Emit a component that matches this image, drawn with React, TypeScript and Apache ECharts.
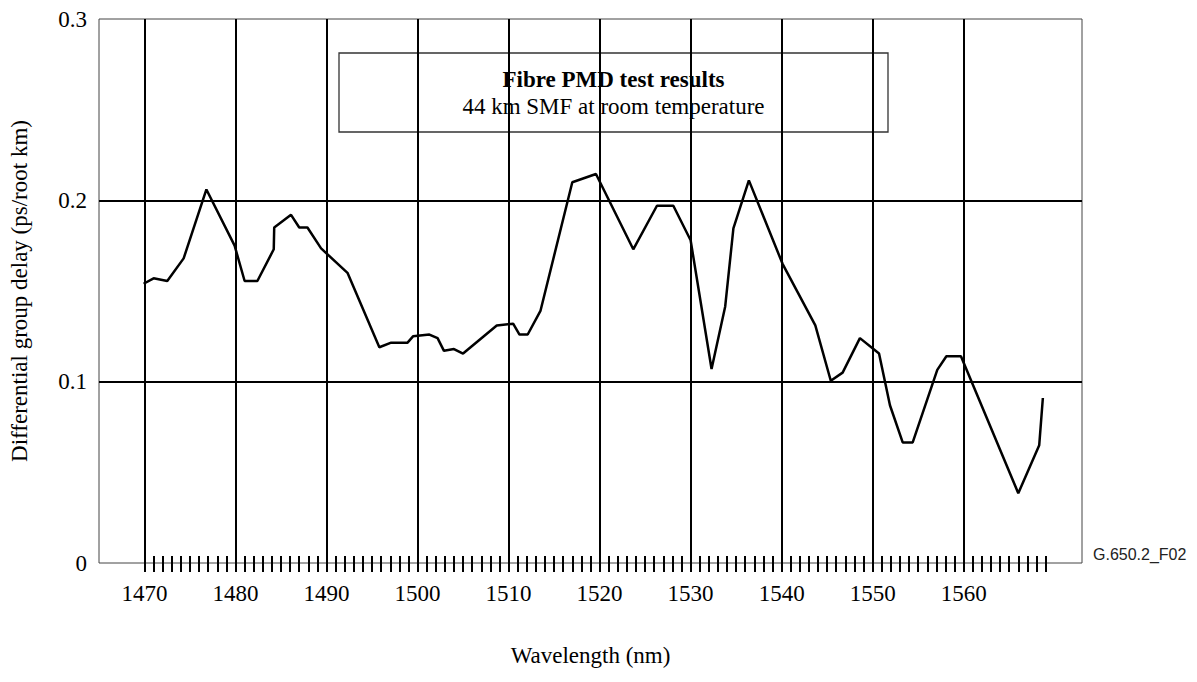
import React, { useEffect, useRef } from "react";
import * as echarts from "echarts";

// Data
const wavelengths: number[] = [
  1469.9, 1471.0, 1472.5, 1474.3, 1476.8, 1479.9, 1481.0, 1482.4, 1484.2, 1484.25,
  1486.1, 1487.0, 1487.9, 1489.4, 1492.3, 1495.8, 1497.1, 1498.9, 1499.5, 1501.3,
  1502.2, 1502.9, 1504.0, 1505.0, 1508.7, 1510.5, 1511.2, 1512.1, 1513.5, 1517.0,
  1519.6, 1523.7, 1526.3, 1528.1, 1530.0, 1532.3, 1533.8, 1534.7, 1536.4, 1540.1,
  1543.7, 1545.4, 1546.7, 1548.6, 1550.7, 1551.9, 1553.3, 1554.4, 1557.1, 1558.1,
  1559.7, 1566.0, 1568.3, 1568.7,
];
const dgdValues: number[] = [
  0.154, 0.157, 0.1555, 0.168, 0.206, 0.175, 0.1555, 0.1555, 0.173, 0.185,
  0.192, 0.185, 0.185, 0.1735, 0.16, 0.119, 0.1215, 0.1215, 0.125, 0.126,
  0.124, 0.117, 0.118, 0.1155, 0.131, 0.132, 0.126, 0.126, 0.139, 0.21,
  0.2145, 0.173, 0.197, 0.197, 0.178, 0.107, 0.1415, 0.1845, 0.211, 0.165,
  0.131, 0.1005, 0.105, 0.124, 0.1155, 0.087, 0.0665, 0.0665, 0.1065, 0.114,
  0.114, 0.0385, 0.065, 0.091,
];

const X_MIN = 1465;
const X_MAX = 1573;
const MAJOR_FIRST = 1470;
const MAJOR_LAST = 1560;
const MAJOR_STEP = 10;
const MINOR_FIRST = 1470;
const MINOR_LAST = 1569;
const MINOR_STEP = 1;
const Y_MIN = 0;
const Y_MAX = 0.3;
const Y_STEP = 0.1;

const titleBold = "Fibre PMD test results";
const titleSub = "44 km SMF at room temperature";
const xTitle = "Wavelength (nm)";
const yTitle = "Differential group delay (ps/root km)";
const figureId = "G.650.2_F02";

const SERIF = "'Liberation Serif', 'Times New Roman', serif";
const SANS = "'Liberation Sans', Arial, sans-serif";

export default function App() {
  const ref = useRef<HTMLDivElement>(null);

  useEffect(() => {
    if (!ref.current) return;
    const chart = echarts.init(ref.current, null, { renderer: "svg" });

    const gLeft = 99;
    const gTop = 19;
    const gWidth = 983;
    const gHeight = 544;
    const k = gWidth / (X_MAX - X_MIN);
    const xOf = (v: number) => gLeft + (v - X_MIN) * k;

    const lineData = wavelengths.map((w, i) => [w, dgdValues[i]]);

    const option: any = {
      animation: false,
      backgroundColor: "#fff",
      textStyle: { fontFamily: SERIF },
      grid: [
        {
          left: gLeft,
          top: gTop,
          width: gWidth,
          height: gHeight,
          show: true,
          borderColor: "#444",
          borderWidth: 1,
          backgroundColor: "transparent",
        },
        {
          left: xOf(MINOR_FIRST),
          width: (MINOR_LAST - MINOR_FIRST) * k,
          top: gTop + gHeight - 7,
          height: 16,
          show: false,
        },
        {
          left: xOf(MAJOR_FIRST),
          width: (MAJOR_LAST - MAJOR_FIRST) * k,
          top: gTop,
          height: gHeight + 9,
          show: false,
        },
      ],
      xAxis: [
        {
          gridIndex: 0,
          type: "value",
          min: X_MIN,
          max: X_MAX,
          axisLine: { show: false },
          axisTick: { show: false },
          axisLabel: { show: false },
          splitLine: { show: false },
          name: xTitle,
          nameLocation: "middle",
          nameGap: 81,
          nameTextStyle: { fontFamily: SERIF, fontSize: 23, color: "#000" },
        },
        {
          gridIndex: 1,
          type: "value",
          min: MINOR_FIRST,
          max: MINOR_LAST,
          interval: MINOR_STEP,
          axisLine: { show: false },
          axisTick: {
            show: true,
            inside: true,
            length: 16,
            lineStyle: { color: "#000", width: 2 },
          },
          axisLabel: { show: false },
          splitLine: { show: false },
        },
        {
          gridIndex: 2,
          type: "value",
          min: MAJOR_FIRST,
          max: MAJOR_LAST,
          interval: MAJOR_STEP,
          axisLine: { show: false },
          axisTick: { show: false },
          axisLabel: {
            show: true,
            margin: 10,
            fontFamily: SERIF,
            fontSize: 23,
            color: "#000",
            formatter: (v: number) => String(v),
          },
          splitLine: { show: true, lineStyle: { color: "#000", width: 2 } },
        },
      ],
      yAxis: [
        {
          gridIndex: 0,
          type: "value",
          min: Y_MIN,
          max: Y_MAX,
          interval: Y_STEP,
          axisLine: { show: false },
          axisTick: { show: false },
          axisLabel: {
            margin: 12,
            fontFamily: SERIF,
            fontSize: 23,
            color: "#000",
            formatter: (v: number) => (v === 0 ? "0" : v.toFixed(1)),
          },
          splitLine: {
            show: true,
            showMinLine: false,
            showMaxLine: false,
            lineStyle: { color: "#000", width: 2 },
          },
          name: yTitle,
          nameLocation: "middle",
          nameGap: 68,
          nameTextStyle: { fontFamily: SERIF, fontSize: 23, color: "#000" },
        },
        {
          gridIndex: 1,
          type: "value",
          show: false,
          min: 0,
          max: 1,
        },
        {
          gridIndex: 2,
          type: "value",
          show: false,
          min: 0,
          max: 1,
        },
      ],
      series: [
        {
          type: "line",
          xAxisIndex: 0,
          yAxisIndex: 0,
          data: lineData,
          symbol: "none",
          lineStyle: { color: "#000", width: 2.5 },
          z: 5,
        },
      ],
      graphic: [
        {
          type: "group",
          z: 100,
          children: [
            {
              type: "rect",
              shape: { x: 339, y: 53, width: 549, height: 79 },
              style: { fill: "#fff", stroke: "#333", lineWidth: 1.3 },
            },
            {
              type: "text",
              x: 613.5,
              y: 79,
              style: {
                text: titleBold,
                fontFamily: SERIF,
                fontSize: 23,
                fontWeight: "bold",
                fill: "#000",
                align: "center",
                verticalAlign: "middle",
              },
            },
            {
              type: "text",
              x: 613.5,
              y: 106,
              style: {
                text: titleSub,
                fontFamily: SERIF,
                fontSize: 23,
                fill: "#000",
                align: "center",
                verticalAlign: "middle",
              },
            },
          ],
        },
        {
          type: "text",
          x: 1093,
          y: 554,
          style: {
            text: figureId,
            fontFamily: SANS,
            fontSize: 16,
            fill: "#222",
            align: "left",
            verticalAlign: "middle",
          },
        },
      ],
    };

    chart.setOption(option);
    return () => chart.dispose();
  }, []);

  return (
    <div
      ref={ref}
      style={{ position: "fixed", left: 0, top: 0, width: 1197, height: 682, background: "#fff" }}
    />
  );
}
